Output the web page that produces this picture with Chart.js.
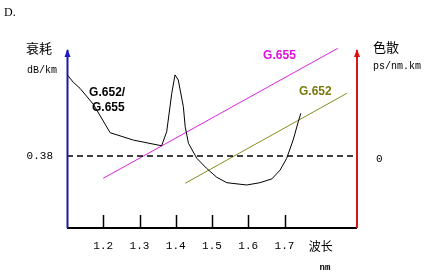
<!DOCTYPE html>
<html>
<head>
<meta charset="utf-8">
<script src="https://cdn.jsdelivr.net/npm/chart.js@4/dist/chart.umd.min.js"></script>
<style>
  body { margin: 0; background: #fff; }
  #wrap { width: 429px; height: 276px; position: relative; }
</style>
</head>
<body>
<div id="wrap"><canvas id="chart"></canvas></div>
<script>
// wavelength (um) and attenuation (dB/km) of the G.652/G.655 loss curve
const lossWave = [1.10, 1.117, 1.136, 1.173, 1.219, 1.283, 1.361, 1.375, 1.389, 1.398, 1.407, 1.421, 1.426, 1.435,
                  1.458, 1.485, 1.513, 1.541, 1.596, 1.632, 1.665, 1.688, 1.706, 1.724, 1.738, 1.745];
const lossVal  = [0.81, 0.77, 0.737, 0.652, 0.503, 0.464, 0.434, 0.508, 0.711, 0.808, 0.781, 0.64, 0.535, 0.447,
                  0.368, 0.315, 0.268, 0.239, 0.227, 0.239, 0.259, 0.306, 0.368, 0.465, 0.561, 0.605];

// dispersion lines (ps/nm.km, relative)
const g655Wave = [1.20, 1.847];
const g655Disp = [-2.23, 10.77];
const g652Wave = [1.426, 1.872];
const g652Disp = [-2.73, 6.27];

const refLoss = 0.38;
const xTickValues = [1.2, 1.3, 1.4, 1.5, 1.6, 1.7, 1.8];
const xTickLabels = ['1.2', '1.3', '1.4', '1.5', '1.6', '1.7', '波长'];
const tickMarks = [1.2, 1.3, 1.4, 1.5, 1.6, 1.7];

const toPts = (xs, ys) => xs.map((x, i) => ({ x: x, y: ys[i] }));

const mono = '"Liberation Mono", "DejaVu Sans Mono", monospace';
const cjk = '"Noto Sans CJK SC", sans-serif';

// axes, arrows, tick marks and text labels
const decor = {
    id: 'decor',
    afterDatasetsDraw(chart) {
        const { ctx, chartArea: a, scales } = chart;
        const xs = scales.x, ys = scales.y, y2 = scales.y2;
        ctx.save();

        // bottom axis
        ctx.strokeStyle = '#000';
        ctx.lineWidth = 2;
        ctx.beginPath();
        ctx.moveTo(a.left, a.bottom);
        ctx.lineTo(a.right, a.bottom);
        ctx.stroke();

        // tick marks pointing up
        ctx.lineWidth = 1.5;
        tickMarks.forEach(v => {
            const px = Math.round(xs.getPixelForValue(v)) + 0.5;
            ctx.beginPath();
            ctx.moveTo(px, a.bottom);
            ctx.lineTo(px, a.bottom - 13);
            ctx.stroke();
        });

        // left axis (blue) and right axis (red) with arrows
        const axis = (x, color, head) => {
            ctx.strokeStyle = color;
            ctx.lineWidth = 2;
            ctx.beginPath();
            ctx.moveTo(x, a.bottom);
            ctx.lineTo(x, a.top + 2);
            ctx.stroke();
            ctx.fillStyle = head;
            ctx.beginPath();
            ctx.moveTo(x, a.top + 1);
            ctx.lineTo(x - 3, a.top + 9);
            ctx.lineTo(x + 3, a.top + 9);
            ctx.closePath();
            ctx.fill();
        };
        axis(a.left + 0.5, '#1a1aa0', '#1a1ad0');
        axis(a.right, '#d01818', '#e01010');

        // labels
        ctx.textBaseline = 'middle';
        ctx.fillStyle = '#000';
        ctx.textAlign = 'left';
        ctx.font = '12px "Liberation Serif", serif';
        ctx.fillText('D.', 4, 13);

        ctx.textAlign = 'center';
        ctx.font = '13px ' + cjk;
        ctx.fillText('衰耗', 39, 48);
        ctx.fillText('色散', 386, 47);
        ctx.font = '10px ' + mono;
        ctx.fillText('dB/km', 42, 70);
        ctx.fillText('ps/nm.km', 397, 66);
        ctx.font = 'bold 9px ' + mono;
        ctx.fillText('nm', 325, 268);

        ctx.textAlign = 'left';
        ctx.font = 'bold 12px "Liberation Sans", sans-serif';
        ctx.fillText('G.652/', xs.getPixelForValue(1.161), ys.getPixelForValue(0.7125));
        ctx.fillText('G.655', xs.getPixelForValue(1.169), ys.getPixelForValue(0.633));
        ctx.fillStyle = '#e010e0';
        ctx.fillText('G.655', xs.getPixelForValue(1.641), y2.getPixelForValue(10.03));
        ctx.fillStyle = '#7a7a10';
        ctx.fillText('G.652', xs.getPixelForValue(1.74), y2.getPixelForValue(6.43));
        ctx.restore();
    }
};

new Chart(document.getElementById('chart').getContext('2d'), {
    type: 'line',
    data: {
        datasets: [
            {
                data: toPts(lossWave, lossVal),
                borderColor: '#000', borderWidth: 1, tension: 0, yAxisID: 'y'
            },
            {
                data: toPts([1.1, 1.9], [refLoss, refLoss]),
                borderColor: '#000', borderWidth: 1.3, borderDash: [6, 4], yAxisID: 'y'
            },
            {
                data: toPts(g655Wave, g655Disp),
                borderColor: '#dd22dd', borderWidth: 1, yAxisID: 'y2'
            },
            {
                data: toPts(g652Wave, g652Disp),
                borderColor: '#8a8a1c', borderWidth: 1, yAxisID: 'y2'
            }
        ]
    },
    options: {
        responsive: true,
        maintainAspectRatio: false,
        animation: false,
        parsing: false,
        layout: { padding: { top: 48, left: 0, right: 0, bottom: 0 } },
        elements: { point: { radius: 0 } },
        plugins: { legend: { display: false }, tooltip: { enabled: false } },
        scales: {
            x: {
                type: 'linear', min: 1.1, max: 1.9,
                grid: { display: false, drawTicks: false },
                border: { display: false },
                afterBuildTicks: s => { s.ticks = xTickValues.map(v => ({ value: v })); },
                afterFit: s => { s.height = 48; },
                ticks: {
                    autoSkip: false, maxRotation: 0, padding: 11, color: '#000',
                    font: c => (c.index === xTickValues.length - 1
                        ? { family: cjk, size: 12 }
                        : { family: mono, size: 11 }),
                    callback: (v, i) => xTickLabels[i]
                }
            },
            y: {
                position: 'left', min: 0, max: 0.95,
                grid: { display: false, drawTicks: false },
                border: { display: false },
                afterBuildTicks: s => { s.ticks = [{ value: refLoss }]; },
                afterFit: s => { s.width = 67; },
                ticks: { padding: 14, color: '#000', font: { family: mono, size: 11 }, callback: v => '0.38' }
            },
            y2: {
                position: 'right', min: -7.2, max: 10.8,
                grid: { display: false, drawTicks: false },
                border: { display: false },
                afterBuildTicks: s => { s.ticks = [{ value: 0 }]; },
                afterFit: s => { s.width = 72; },
                ticks: { padding: 19, labelOffset: 3, color: '#000', font: { family: mono, size: 11 }, callback: v => '0' }
            }
        }
    },
    plugins: [decor]
});
</script>
</body>
</html>
